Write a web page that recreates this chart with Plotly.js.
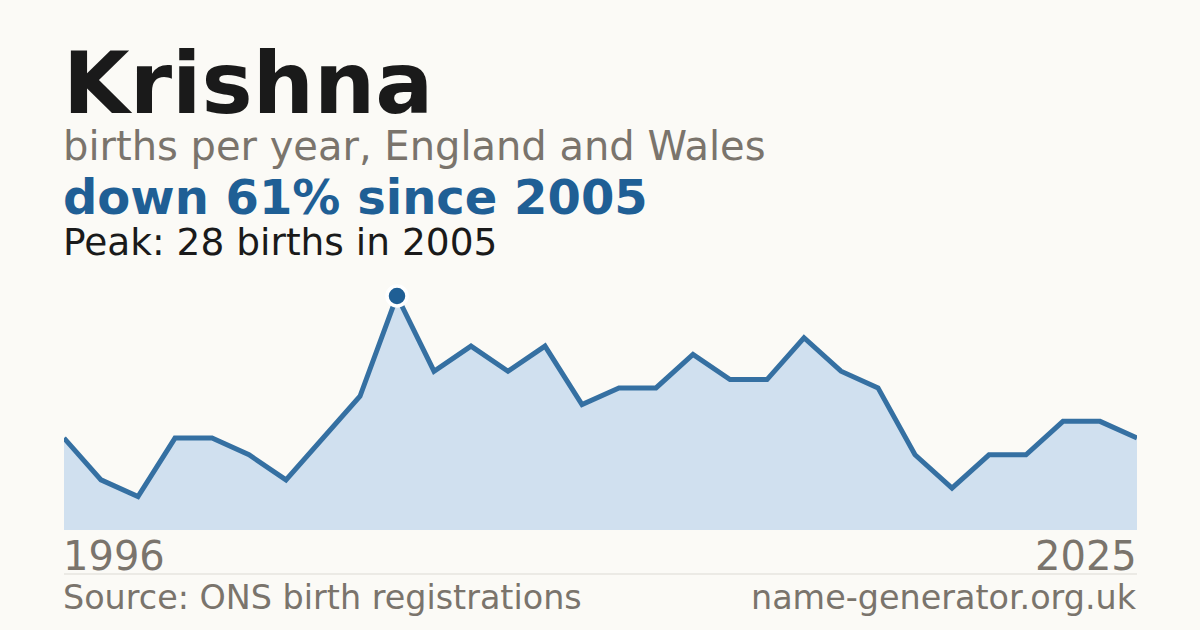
<!DOCTYPE html>
<html>
<head>
<meta charset="utf-8">
<script src="https://cdn.plot.ly/plotly-3.0.1.min.js"></script>
<style>
  html, body { margin: 0; padding: 0; background: #fbfaf6; }
  #chart { width: 1200px; height: 630px; }
</style>
</head>
<body>
<div id="chart"></div>
<script>
const years = [1996,1997,1998,1999,2000,2001,2002,2003,2004,2005,2006,2007,2008,2009,2010,2011,2012,2013,2014,2015,2016,2017,2018,2019,2020,2021,2022,2023,2024,2025];
const births = [11,6,4,11,11,9,6,11,16,28,19,22,19,22,15,17,17,21,18,18,23,19,17,9,5,9,9,13,13,11];
const peakYear = [2005];
const peakValue = [28];
const titleText = "Krishna";
const subtitleText = "births per year, England and Wales";
const changeText = "down 61% since 2005";
const peakText = "Peak: 28 births in 2005";
const firstLabel = "1996";
const lastLabel = "2025";
const sourceText = "Source: ONS birth registrations";
const siteText = "name-generator.org.uk";

const font = "DejaVu Sans, sans-serif";
const gray = "#7a746c";
const blue = "#1f5f95";

const traces = [
  {
    x: years, y: births, type: "scatter", mode: "lines",
    fill: "tozeroy", fillcolor: "#d0e0ef",
    line: { color: "#3570a2", width: 5 },
    hoverinfo: "skip"
  },
  {
    x: peakYear, y: peakValue, type: "scatter", mode: "markers",
    marker: { size: 20, color: blue, line: { color: "#ffffff", width: 3.5 } },
    cliponaxis: false, hoverinfo: "skip"
  }
];

function ann(text, x, y, size, color, bold, xanchor) {
  const right = xanchor === "right";
  return {
    text: bold ? "<b>" + text + "</b>" : text,
    x: x, y: y, xref: "paper", yref: "paper",
    xanchor: xanchor || "left", yanchor: "bottom",
    xshift: right ? 1 : -2, borderpad: 0,
    showarrow: false,
    font: { family: font, size: size, color: color }
  };
}

const layout = {
  width: 1200, height: 630,
  margin: { l: 64, r: 63, t: 276, b: 100 },
  paper_bgcolor: "#fbfaf6", plot_bgcolor: "#fbfaf6",
  showlegend: false,
  xaxis: { range: [1996, 2025], visible: false, fixedrange: true },
  yaxis: { range: [0, 30.39], visible: false, fixedrange: true },
  annotations: [
    ann(titleText, 0, 1.560, 86, "#1a1a1a", true),
    ann(subtitleText, 0, 1.417, 40, gray, false),
    ann(changeText, 0, 1.196, 48, blue, true),
    ann(peakText, 0, 1.043, 37.5, "#1a1a1a", false),
    ann(firstLabel, 0, -0.197, 40, gray, false),
    ann(lastLabel, 1, -0.197, 40, gray, false, "right"),
    ann(sourceText, 0, -0.347, 33.4, gray, false),
    ann(siteText, 1, -0.347, 33.4, gray, false, "right")
  ],
  shapes: [
    { type: "line", xref: "paper", yref: "paper", x0: 0, x1: 1, y0: -0.1732, y1: -0.1732,
      line: { color: "#dcdad4", width: 1 } }
  ]
};

Plotly.newPlot("chart", traces, layout, { staticPlot: true, displayModeBar: false });
</script>
</body>
</html>
